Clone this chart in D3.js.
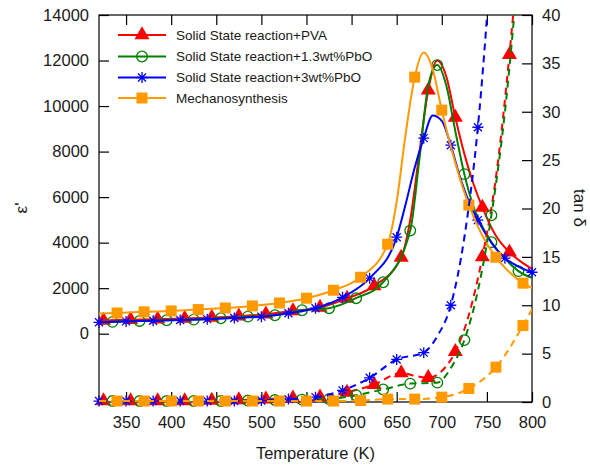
<!DOCTYPE html>
<html><head><meta charset="utf-8">
<script src="https://cdn.jsdelivr.net/npm/d3@7"></script>
<style>body{margin:0;background:#fff}svg{display:block}text{font-family:"Liberation Sans",Arial,sans-serif;fill:#1a1a1a}</style>
</head><body><svg id="c" width="590" height="467"></svg>
<script>
// ---- data ----
const seriesNames = ["Solid State reaction+PVA","Solid State reaction+1.3wt%PbO","Solid State reaction+3wt%PbO","Mechanosynthesis"];
const markerStart = [325, 335, 320, 340];
const markerStep = 30;

// permittivity (left axis)
const redEpsT   = [320,325,355,385,415,445,475,505,535,565,595,625,655,665,675,685,695,705,715,725,735,745,760,775,790,800];
const redEps    = [570,580,610,640,670,710,770,860,1000,1150,1550,2100,3350,5000,7900,10700,12000,11300,9500,7900,6600,5550,4300,3580,3100,2850];
const greenEpsT = [320,335,365,395,425,455,485,515,545,575,605,635,665,675,685,695,705,715,725,735,745,755,770,785,800];
const greenEps  = [500,520,560,590,620,680,750,810,1030,1120,1560,2260,4530,7600,10900,11800,10900,8900,7010,5600,4700,4020,3300,2750,2450];
const blueEpsT  = [320,350,380,410,440,470,500,530,560,590,620,650,660,670,680,690,700,710,720,730,740,755,770,785,800];
const blueEps   = [500,540,570,600,640,690,750,900,1120,1600,2440,4240,5700,7300,8590,9580,9350,8280,6900,5800,4990,4000,3320,2950,2700];
const orangeEpsT= [320,340,370,400,430,460,490,520,550,580,610,640,650,660,670,680,690,700,715,730,745,760,775,790,800];
const orangeEps = [890,910,960,1000,1060,1130,1220,1350,1560,1910,2480,3930,5800,8800,11270,12350,11600,9820,7500,5650,4300,3360,2700,2220,2000];

// loss tangent (right axis)
const redTanT   = [320,325,355,385,415,445,475,505,535,565,595,625,655,670,685,700,715,730,745,760,775,790];
const redTan    = [0.1,0.1,0.1,0.1,0.1,0.15,0.2,0.3,0.4,0.5,1.0,1.8,3.0,2.7,2.5,3.2,5.2,9.0,15.0,23.2,35.9,52];
const greenTanT = [320,335,365,395,425,455,485,515,545,575,605,635,665,695,710,725,740,755,770,785];
const greenTan  = [0.1,0.1,0.1,0.1,0.1,0.1,0.15,0.2,0.25,0.3,0.7,1.3,1.9,2.0,3.5,6.4,11.5,19.3,30,45];
const blueTanT  = [320,350,380,410,440,470,500,530,560,590,620,650,680,695,710,725,740,755];
const blueTan   = [0.1,0.1,0.1,0.1,0.1,0.1,0.15,0.3,0.5,1.2,2.5,4.4,5.1,6.8,10.0,17,28.4,46];
const orangeTanT= [320,340,370,400,430,460,490,520,550,580,610,640,670,700,730,760,790,800];
const orangeTan = [0.1,0.1,0.1,0.1,0.1,0.1,0.1,0.1,0.1,0.1,0.15,0.3,0.3,0.5,1.4,3.6,7.9,9.6];

const xTicks = [350,400,450,500,550,600,650,700,750,800];
const yLeftTicks = [0,2000,4000,6000,8000,10000,12000,14000];
const yRightTicks = [0,5,10,15,20,25,30,35,40];

// ---- chart ----
const colors = ["#ff0000","#008000","#0000ff","#ff9900"];
const shapes = ["triangle","circle","star","square"];
const epsT = [redEpsT, greenEpsT, blueEpsT, orangeEpsT];
const epsV = [redEps, greenEps, blueEps, orangeEps];
const tanT = [redTanT, greenTanT, blueTanT, orangeTanT];
const tanV = [redTan, greenTan, blueTan, orangeTan];

const svg = d3.select("#c");
const L = 99, R = 532, T = 15, B = 402;
const x = d3.scaleLinear().domain([320, 800]).range([L, R]);
const yL = d3.scaleLinear().domain([-3000, 14000]).range([B, T]);
const yR = d3.scaleLinear().domain([0, 40]).range([B, T]);

svg.append("defs").append("clipPath").attr("id","clip")
  .append("rect").attr("x",L).attr("y",T).attr("width",R-L).attr("height",B-T);

function styleAxis(g){
  g.select(".domain").remove();
  g.selectAll(".tick line").attr("stroke","#000").attr("stroke-width",1.2);
  g.selectAll(".tick text").attr("font-size",16.5).attr("fill","#1a1a1a")
    .style("font-family",'"Liberation Sans",Arial,sans-serif');
}
svg.append("g").attr("transform",`translate(${L},0)`)
  .call(d3.axisLeft(yL).tickValues(yLeftTicks).tickSize(-10).tickPadding(10).tickFormat(d3.format("d"))).call(styleAxis);
svg.append("g").attr("transform",`translate(${R},0)`)
  .call(d3.axisRight(yR).tickValues(yRightTicks).tickSize(-10).tickPadding(10).tickFormat(d3.format("d"))).call(styleAxis);
svg.append("g").attr("transform",`translate(0,${B})`)
  .call(d3.axisBottom(x).tickValues(xTicks).tickSize(-10).tickPadding(14).tickFormat(d3.format("d"))).call(styleAxis);
svg.append("g").attr("transform",`translate(0,${T})`)
  .call(d3.axisTop(x).tickValues(xTicks).tickSize(-10).tickFormat("")).call(styleAxis);

svg.append("rect").attr("x",L).attr("y",T).attr("width",R-L).attr("height",B-T)
  .attr("fill","none").attr("stroke","#000").attr("stroke-width",1.2);

// axis titles
svg.append("text").attr("x",(L+R)/2).attr("y",453).attr("text-anchor","middle")
  .attr("dominant-baseline","central").attr("font-size",16.5).text("Temperature (K)");
svg.append("text").attr("transform","translate(21,208) rotate(-90)").attr("text-anchor","middle")
  .attr("dominant-baseline","central").attr("font-size",17).text("ε'");
svg.append("text").attr("transform","translate(579,208) rotate(90)").attr("text-anchor","middle")
  .attr("dominant-baseline","central").attr("font-size",17).text("tan δ");

function drawMarker(g, shape, color, cx, cy){
  if(shape==="triangle"){
    g.append("path").attr("d",`M${cx},${cy-8.7}L${cx+7.5},${cy+4.3}L${cx-7.5},${cy+4.3}Z`).attr("fill",color);
  } else if(shape==="circle"){
    g.append("circle").attr("cx",cx).attr("cy",cy).attr("r",5.3).attr("fill","none").attr("stroke",color).attr("stroke-width",1.3);
  } else if(shape==="star"){
    const s=5.5, d=4;
    g.append("path").attr("d",`M${cx-s},${cy}H${cx+s}M${cx},${cy-s}V${cy+s}M${cx-d},${cy-d}L${cx+d},${cy+d}M${cx-d},${cy+d}L${cx+d},${cy-d}`)
      .attr("stroke",color).attr("stroke-width",1.3).attr("fill","none");
  } else {
    g.append("rect").attr("x",cx-5.5).attr("y",cy-5.5).attr("width",11).attr("height",11).attr("fill",color);
  }
}

const plot = svg.append("g");
function drawSeries(i, ts, vs, yScale, dashed){
  const pts = ts.map((t,k)=>[t, vs[k]]);
  const line = d3.line().x(d=>x(d[0])).y(d=>yScale(d[1])).curve(d3.curveMonotoneX);
  plot.append("path").attr("d", line(pts)).attr("clip-path","url(#clip)")
    .attr("fill","none").attr("stroke",colors[i]).attr("stroke-width",2)
    .attr("stroke-dasharray", dashed ? "7,5" : null);
  const dom = yScale.domain();
  const mg = plot.append("g");
  pts.filter(d => d[0] >= markerStart[i] && (d[0]-markerStart[i]) % markerStep === 0 && d[1] >= dom[0] && d[1] <= dom[1])
    .forEach(d => drawMarker(mg, shapes[i], colors[i], x(d[0]), yScale(d[1])));
}
for(let i=0;i<4;i++) drawSeries(i, epsT[i], epsV[i], yL, false);
for(let i=0;i<4;i++) drawSeries(i, tanT[i], tanV[i], yR, true);

// legend
const rowsY = [35, 56.5, 77.5, 98];
seriesNames.forEach((name,i)=>{
  const g = svg.append("g");
  g.append("line").attr("x1",118).attr("x2",166).attr("y1",rowsY[i]).attr("y2",rowsY[i])
    .attr("stroke",colors[i]).attr("stroke-width",2);
  drawMarker(g, shapes[i], colors[i], 142, rowsY[i]);
  g.append("text").attr("x",176).attr("y",rowsY[i]).attr("dominant-baseline","central")
    .attr("font-size",13.5).text(name);
});
</script></body></html>
